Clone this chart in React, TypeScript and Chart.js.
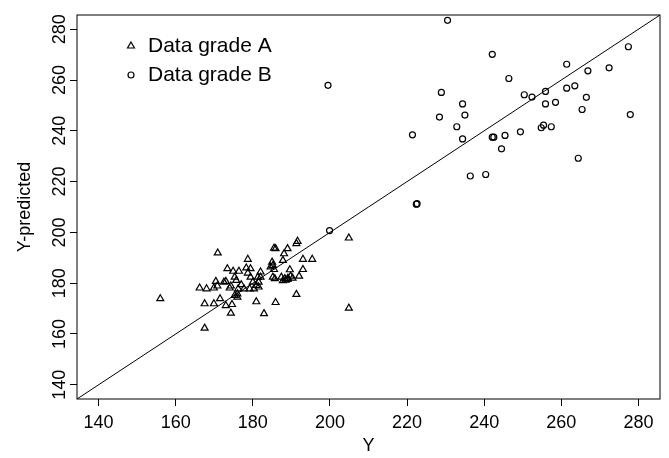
import React, { useEffect, useRef } from "react";
import { Chart, registerables } from "chart.js";

Chart.register(...registerables);

// Axis limits (same on both axes) and tick values
const AXIS_MIN = 134.4;
const AXIS_MAX = 285.6;
const tickValues = [140, 160, 180, 200, 220, 240, 260, 280];

// Data grade A (triangles)
const gradeAX = [156.0, 167.5, 170.9, 204.9, 204.9, 191.3, 182.9, 185.9, 180.9, 174.3, 167.5, 169.9, 171.5, 173.0, 174.6, 166.2, 168.0, 169.9, 170.8, 170.4, 172.5, 173.0, 174.0, 174.3, 173.4, 174.9, 176.4, 175.3, 175.7, 178.7, 178.3, 179.4, 178.7, 179.4, 176.2, 177.0, 177.7, 179.2, 175.3, 176.0, 176.0, 180.0, 180.3, 191.6, 191.3, 185.5, 185.9, 189.0, 188.1, 187.8, 193.0, 195.4, 185.0, 185.2, 184.6, 185.5, 189.6, 193.0, 182.0, 181.3, 182.0, 185.2, 185.7, 187.4, 188.3, 189.1, 189.8, 190.3, 192.0, 181.5, 180.9, 181.5, 188.5, 189.0, 187.8];
const gradeAY = [173.9, 162.3, 191.9, 197.8, 170.2, 175.6, 168.0, 172.4, 172.7, 168.2, 171.9, 171.9, 173.9, 171.2, 171.6, 178.1, 177.8, 178.1, 178.9, 180.7, 180.4, 180.7, 178.1, 178.9, 185.7, 184.7, 184.7, 182.4, 181.1, 189.4, 186.0, 185.7, 184.0, 182.4, 177.8, 179.4, 177.8, 177.8, 175.2, 174.5, 175.8, 180.4, 177.8, 196.5, 195.6, 193.8, 193.6, 193.6, 191.6, 189.0, 189.4, 189.4, 188.3, 187.0, 186.4, 185.4, 185.3, 185.4, 184.4, 182.4, 182.4, 182.4, 181.8, 182.4, 181.8, 182.0, 182.8, 182.0, 182.8, 180.4, 179.1, 178.5, 181.2, 181.5, 181.0];

// Data grade B (circles)
const gradeBX = [230.5, 242.1, 277.4, 261.4, 272.4, 266.9, 246.4, 228.9, 261.4, 263.5, 255.9, 250.4, 252.4, 266.5, 234.4, 255.9, 258.5, 265.4, 228.4, 235.0, 277.9, 232.9, 255.4, 254.8, 257.4, 221.4, 234.4, 242.1, 242.5, 245.4, 249.4, 244.5, 264.4, 236.4, 240.4, 222.4, 222.6, 199.5, 199.9];
const gradeBY = [283.5, 270.1, 273.1, 266.2, 264.8, 263.6, 260.6, 255.1, 256.8, 257.7, 255.5, 254.2, 253.3, 253.2, 250.6, 250.6, 251.2, 248.4, 245.4, 246.2, 246.4, 241.6, 242.2, 241.2, 241.6, 238.4, 236.8, 237.5, 237.5, 238.2, 239.6, 232.9, 229.2, 222.2, 222.8, 211.1, 211.3, 257.9, 200.7];

const seriesLabels = ["Data grade A", "Data grade B"];
const xTitle = "Y";
const yTitle = "Y-predicted";

const FONT = "'Liberation Sans', Arial, Helvetica, sans-serif";

const boxPlugin = {
  id: "plotBox",
  afterDraw(chart: any) {
    const { ctx, chartArea } = chart;
    const { left, top, right, bottom } = chartArea;
    ctx.save();
    ctx.strokeStyle = "#000";
    ctx.lineWidth = 1;
    ctx.strokeRect(left, top, right - left, bottom - top);
    ctx.restore();
  },
};

const legendPlugin = {
  id: "innerLegend",
  afterDraw(chart: any) {
    const { ctx, chartArea } = chart;
    const mx = chartArea.left + 54;
    const y0 = chartArea.top + 31;
    const gap = 29;
    ctx.save();
    ctx.strokeStyle = "#000";
    ctx.lineWidth = 1.2;
    // triangle
    const r = 4;
    ctx.beginPath();
    for (let i = 0; i < 3; i++) {
      const a = (i * 2 * Math.PI) / 3;
      const px = mx + Math.sin(a) * r;
      const py = y0 - Math.cos(a) * r;
      if (i === 0) ctx.moveTo(px, py);
      else ctx.lineTo(px, py);
    }
    ctx.closePath();
    ctx.stroke();
    // circle
    ctx.beginPath();
    ctx.arc(mx, y0 + gap, 3, 0, Math.PI * 2);
    ctx.stroke();
    ctx.fillStyle = "#000";
    ctx.font = `21px ${FONT}`;
    ctx.textBaseline = "middle";
    ctx.textAlign = "left";
    ctx.fillText(seriesLabels[0], mx + 17, y0);
    ctx.fillText(seriesLabels[1], mx + 17, y0 + gap);
    ctx.restore();
  },
};

export default function App() {
  const ref = useRef<HTMLCanvasElement | null>(null);

  useEffect(() => {
    document.body.style.margin = "0";
    const canvas = ref.current;
    if (!canvas) return;
    const gradeA = gradeAX.map((x, i) => ({ x, y: gradeAY[i] }));
    const gradeB = gradeBX.map((x, i) => ({ x, y: gradeBY[i] }));
    const diag = [
      { x: AXIS_MIN, y: AXIS_MIN },
      { x: AXIS_MAX, y: AXIS_MAX },
    ];
    const tickFont = { family: FONT, size: 18 };
    const setTicks = (scale: any) => {
      scale.ticks = tickValues.map((v) => ({ value: v }));
    };
    const chart = new Chart(canvas, {
      type: "scatter",
      data: {
        datasets: [
          {
            label: seriesLabels[0],
            data: gradeA,
            pointStyle: "triangle",
            pointRadius: 4,
            borderColor: "#000",
            backgroundColor: "rgba(0,0,0,0)",
            borderWidth: 1.2,
          },
          {
            label: seriesLabels[1],
            data: gradeB,
            pointStyle: "circle",
            pointRadius: 3,
            borderColor: "#000",
            backgroundColor: "rgba(0,0,0,0)",
            borderWidth: 1.2,
          },
          {
            label: "y = x",
            data: diag,
            showLine: true,
            pointRadius: 0,
            borderColor: "#000",
            borderWidth: 1,
            fill: false,
          },
        ],
      },
      options: {
        animation: false,
        responsive: false,
        devicePixelRatio: 1,
        layout: { padding: { top: 15, right: 9, left: 0, bottom: 0 } },
        plugins: {
          legend: { display: false },
          tooltip: { enabled: false },
        },
        scales: {
          x: {
            type: "linear",
            min: AXIS_MIN,
            max: AXIS_MAX,
            afterBuildTicks: setTicks,
            afterFit: (s: any) => {
              s.height = 59;
            },
            border: { display: false },
            grid: { drawOnChartArea: false, drawTicks: true, tickLength: 7, color: "#000" },
            ticks: { color: "#000", font: tickFont, padding: 6, maxRotation: 0, autoSkip: false },
            title: { display: true, text: xTitle, color: "#000", font: tickFont, padding: { top: 0, bottom: 1 } },
          },
          y: {
            type: "linear",
            min: AXIS_MIN,
            max: AXIS_MAX,
            afterBuildTicks: setTicks,
            afterFit: (s: any) => {
              s.width = 77;
            },
            border: { display: false },
            grid: { drawOnChartArea: false, drawTicks: true, tickLength: 7, color: "#000" },
            ticks: { color: "#000", font: tickFont, padding: -5, minRotation: 90, maxRotation: 90, crossAlign: "center", autoSkip: false },
            title: { display: true, text: yTitle, color: "#000", font: tickFont, padding: { top: 14, bottom: 0 } },
          },
        },
      },
      plugins: [boxPlugin, legendPlugin],
    } as any);
    return () => chart.destroy();
  }, []);

  return (
    <div style={{ width: 669, height: 458 }}>
      <canvas ref={ref} width={669} height={458} />
    </div>
  );
}
